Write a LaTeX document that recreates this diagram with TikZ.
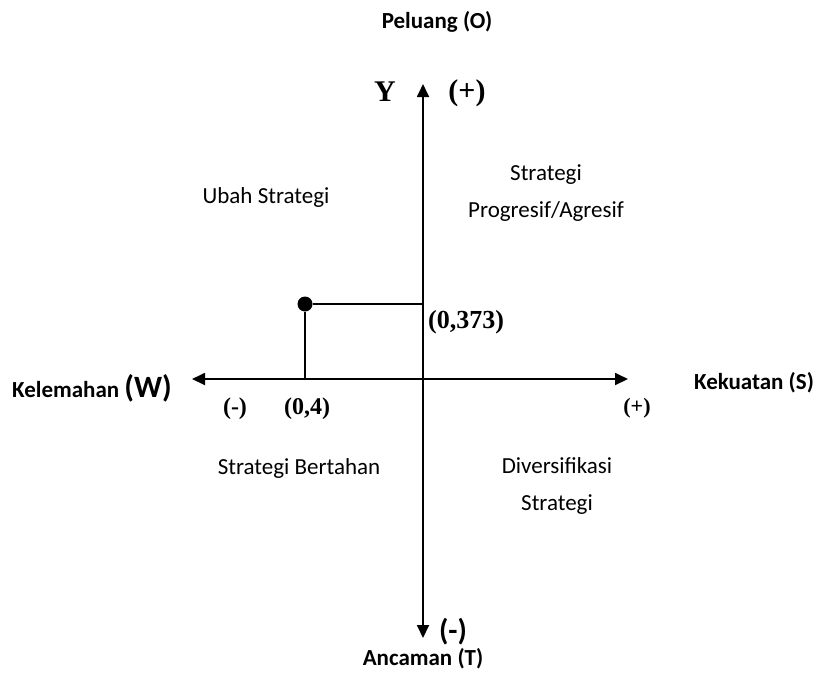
\documentclass[tikz,border=0pt]{standalone}
\usepackage{fontspec}
\usepackage{tikz}
\usetikzlibrary{arrows.meta}
\newfontfamily\calibri{Carlito}
\newfontfamily\cambria{Liberation Serif}

\begin{document}
\begin{tikzpicture}
  [x=1pt,y=-1pt,every node/.style={inner sep=0pt},
   axis/.style={line width=1.8pt,{Triangle[length=13pt,width=12pt]}-{Triangle[length=13pt,width=12pt]}},
   guide/.style={line width=1.5pt},
   lbl/.style={font=\calibri\fontsize{23}{37}\selectfont,align=center},
   side/.style={font=\calibri\bfseries\fontsize{23}{26}\selectfont},
   val/.style={font=\cambria\bfseries\fontsize{24}{28}\selectfont},
   big/.style={font=\cambria\bfseries\fontsize{30}{34}\selectfont}]
  \useasboundingbox (0,0) rectangle (818,673);
  % axes
  \coordinate (o) at (423,379);
  \coordinate (top) at (423,84);
  \coordinate (bot) at (423,638);
  \coordinate (left) at (192,379);
  \coordinate (right) at (628,379);
  \draw[axis] (bot) -- (top);
  \draw[axis] (left) -- (right);
  % the point
  \node[circle,fill,minimum size=15pt] (p) at (305,304) {};
  \draw[guide] (p) -- (p -| o);
  \draw[guide] (p) -- (p |- o);
  % axis labels
  \node[side] (peluang) at (437,22) {Peluang (O)};
  \node[side] (ancaman) at (423,659) {Ancaman (T)};
  \node[side] (kekuatan) at (754,383) {Kekuatan (S)};
  \node[side,anchor=base west] (kelemahan) at (12,397) {Kelemahan {\fontsize{31}{34}\selectfont(W)}};
  \node[big] (ylab) at (385,92) {Y};
  \node[big] (yplus) at (467,93) {(+)};
  \node[font=\calibri\bfseries\fontsize{30}{34}\selectfont] (yminus) at (453,632) {(-)};
  \node[val] (xminus) at (235,409) {(-)};
  \node[val] (xval) at (307,409) {(0,4)};
  \node[val,font=\cambria\bfseries\fontsize{22}{26}\selectfont] (xplus) at (637,408) {(+)};
  \node[val,font=\cambria\bfseries\fontsize{26}{30}\selectfont,anchor=west] (yval) at (428,322) {(0,373)};
  % quadrants
  \node[lbl] (q2) at (266,197) {Ubah Strategi};
  \node[lbl] (q1) at (546,193) {Strategi\\Progresif/Agresif};
  \node[lbl] (q3) at (299,468) {Strategi Bertahan};
  \node[lbl] (q4) at (557,486) {Diversifikasi\\Strategi};
\end{tikzpicture}
\end{document}
